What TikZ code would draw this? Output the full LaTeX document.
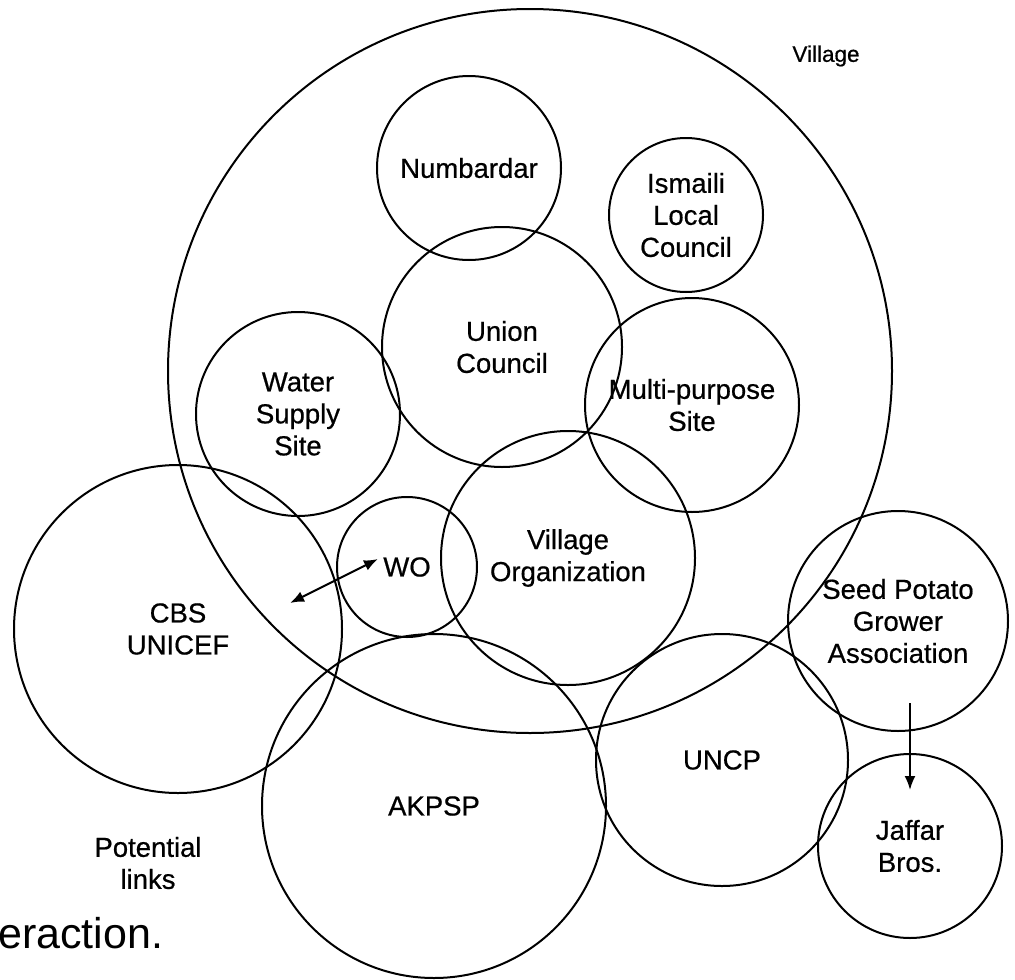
\documentclass[tikz,border=0pt]{standalone}
\usepackage{fontspec}
\setmainfont{Liberation Sans}
\newfontfamily\dgheavy[FakeBold=0.6]{Liberation Sans}
\usetikzlibrary{arrows.meta}
\newcommand\dglabelfont{\dgheavy\fontsize{27.5}{32}\selectfont}
\begin{document}
\begin{tikzpicture}[x=1pt,y=-1pt,
  ring/.style={circle, draw, line width=2pt, inner sep=0pt, align=center, font=\dglabelfont},
  plain/.style={inner sep=0pt, align=center, font=\dglabelfont},
  link/.style={line width=2pt},
  tip/.tip={Latex[length=14pt,width=11pt]}]
\useasboundingbox (0,0) rectangle (1015,980);
% big village circle
\node[ring, minimum size=724] (village) at (530,371) {};
\node[plain, font=\dgheavy\fontsize{22.5}{26}\selectfont] (villagelabel) at (826,56) {Village};
% circles inside the village
\node[ring, minimum size=184] (numbardar) at (469,168) {Numbardar};
\node[ring, minimum size=154] (ismaili) at (686,215) {Ismaili\\Local\\Council};
\node[ring, minimum size=240] (union) at (502,347) {Union\\Council};
\node[ring, minimum size=204] (water) at (298,414) {Water\\Supply\\Site};
\node[ring, minimum size=214] (multi) at (692,405) {Multi-purpose\\Site};
\node[ring, minimum size=254] (vorg) at (568,558) {Village\\Organization};
\node[ring, minimum size=140] (wo) at (407,567) {WO};
% outside organisations
\node[ring, minimum size=328] (cbs) at (178,629) {CBS\\UNICEF};
\node[ring, minimum size=344] (akpsp) at (434,806) {AKPSP};
\node[ring, minimum size=252] (uncp) at (722,760) {UNCP};
\node[ring, minimum size=220] (seed) at (898,621) {Seed Potato\\Grower\\Association};
\node[ring, minimum size=184] (jaffar) at (910,846) {Jaffar\\Bros.};
% labels
\node[plain] (potential) at (148,863) {Potential\\links};
\node[anchor=base west, inner sep=0pt, font=\fontsize{43}{50}\selectfont] (caption) at (-2,948) {eraction.};
% connectors
\coordinate (woend) at (378,559);
\coordinate (cbsend) at (290,603);
\draw[link, tip-tip] (cbsend) -- (woend);
\coordinate (seedend) at (910,703);
\coordinate (jaffarend) at (910,790);
\draw[link, -tip] (seedend) -- (jaffarend);
\end{tikzpicture}
\end{document}
